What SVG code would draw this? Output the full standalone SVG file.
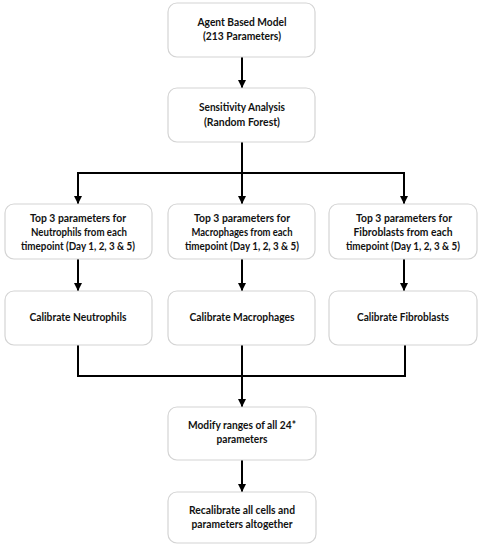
<svg xmlns="http://www.w3.org/2000/svg" width="481" height="550" viewBox="0 0 481 550">
<style>
.box{fill:#fff;stroke:#d4d4d4;stroke-width:1.2}
.t{font-family:Lato,"Liberation Sans",sans-serif;font-weight:700;font-size:12px;fill:#111;text-anchor:middle}
.c{fill:none;stroke:#000;stroke-width:2}
</style>
<defs>
<marker id="a" markerUnits="userSpaceOnUse" markerWidth="8" markerHeight="9" refX="8" refY="4" orient="auto" viewBox="0 0 8 8">
<path d="M0,0 L8,4 L0,8 Z" fill="#000"/>
</marker>
</defs>
<g id="connectors">
<path class="c" d="M242,57 V88" marker-end="url(#a)"/>
<path class="c" d="M242,142 V173"/>
<path class="c" d="M77,173 H405"/>
<path class="c" d="M78,173 V204" marker-end="url(#a)"/>
<path class="c" d="M242,173 V204" marker-end="url(#a)"/>
<path class="c" d="M404,173 V204" marker-end="url(#a)"/>
<path class="c" d="M78,259 V291" marker-end="url(#a)"/>
<path class="c" d="M242,259 V291" marker-end="url(#a)"/>
<path class="c" d="M404,259 V291" marker-end="url(#a)"/>
<path class="c" d="M78,345 V376 H405 V345"/>
<path class="c" d="M242,345 V376"/>
<path class="c" d="M242,376 V407" marker-end="url(#a)"/>
<path class="c" d="M242,460 V492" marker-end="url(#a)"/>
</g>
<g id="n1"><rect class="box" x="168" y="3" width="147" height="54" rx="9"/>
<text class="t" x="242" y="26" textLength="89" lengthAdjust="spacingAndGlyphs">Agent Based Model</text><text class="t" x="242" y="40" textLength="78" lengthAdjust="spacingAndGlyphs">(213 Parameters)</text></g>
<g id="n2"><rect class="box" x="168" y="88" width="147" height="54" rx="9"/>
<text class="t" x="242" y="111" textLength="86" lengthAdjust="spacingAndGlyphs">Sensitivity Analysis</text><text class="t" x="242" y="126" textLength="76" lengthAdjust="spacingAndGlyphs">(Random Forest)</text></g>
<g id="n3"><rect class="box" x="5" y="204" width="147" height="55" rx="9"/>
<text class="t" x="78" y="222" textLength="96" lengthAdjust="spacingAndGlyphs">Top 3 parameters for</text><text class="t" x="79" y="236" textLength="96" lengthAdjust="spacingAndGlyphs">Neutrophils from each</text><text class="t" x="78" y="250" textLength="114" lengthAdjust="spacingAndGlyphs">timepoint (Day 1, 2, 3 &amp; 5)</text></g>
<g id="n4"><rect class="box" x="168" y="204" width="147" height="55" rx="9"/>
<text class="t" x="242" y="222" textLength="96" lengthAdjust="spacingAndGlyphs">Top 3 parameters for</text><text class="t" x="242" y="236" textLength="101" lengthAdjust="spacingAndGlyphs">Macrophages from each</text><text class="t" x="242" y="250" textLength="114" lengthAdjust="spacingAndGlyphs">timepoint (Day 1, 2, 3 &amp; 5)</text></g>
<g id="n5"><rect class="box" x="329" y="204" width="148" height="55" rx="9"/>
<text class="t" x="404" y="222" textLength="96" lengthAdjust="spacingAndGlyphs">Top 3 parameters for</text><text class="t" x="403" y="236" textLength="99" lengthAdjust="spacingAndGlyphs">Fibroblasts from each</text><text class="t" x="403" y="250" textLength="114" lengthAdjust="spacingAndGlyphs">timepoint (Day 1, 2, 3 &amp; 5)</text></g>
<g id="n6"><rect class="box" x="5" y="291" width="147" height="54" rx="9"/>
<text class="t" x="78" y="321" textLength="97" lengthAdjust="spacingAndGlyphs">Calibrate Neutrophils</text></g>
<g id="n7"><rect class="box" x="168" y="291" width="147" height="54" rx="9"/>
<text class="t" x="242" y="321" textLength="105" lengthAdjust="spacingAndGlyphs">Calibrate Macrophages</text></g>
<g id="n8"><rect class="box" x="329" y="291" width="148" height="54" rx="9"/>
<text class="t" x="403" y="321" textLength="92" lengthAdjust="spacingAndGlyphs">Calibrate Fibroblasts</text></g>
<g id="n9"><rect class="box" x="168" y="407" width="148" height="53" rx="9"/>
<text class="t" x="242" y="429" textLength="108" lengthAdjust="spacingAndGlyphs">Modify ranges of all 24*</text><text class="t" x="242" y="443" textLength="51" lengthAdjust="spacingAndGlyphs">parameters</text></g>
<g id="n10"><rect class="box" x="168" y="492" width="148" height="51" rx="9"/>
<text class="t" x="242" y="514" textLength="106" lengthAdjust="spacingAndGlyphs">Recalibrate all cells and</text><text class="t" x="242" y="528" textLength="101" lengthAdjust="spacingAndGlyphs">parameters altogether</text></g>
</svg>
